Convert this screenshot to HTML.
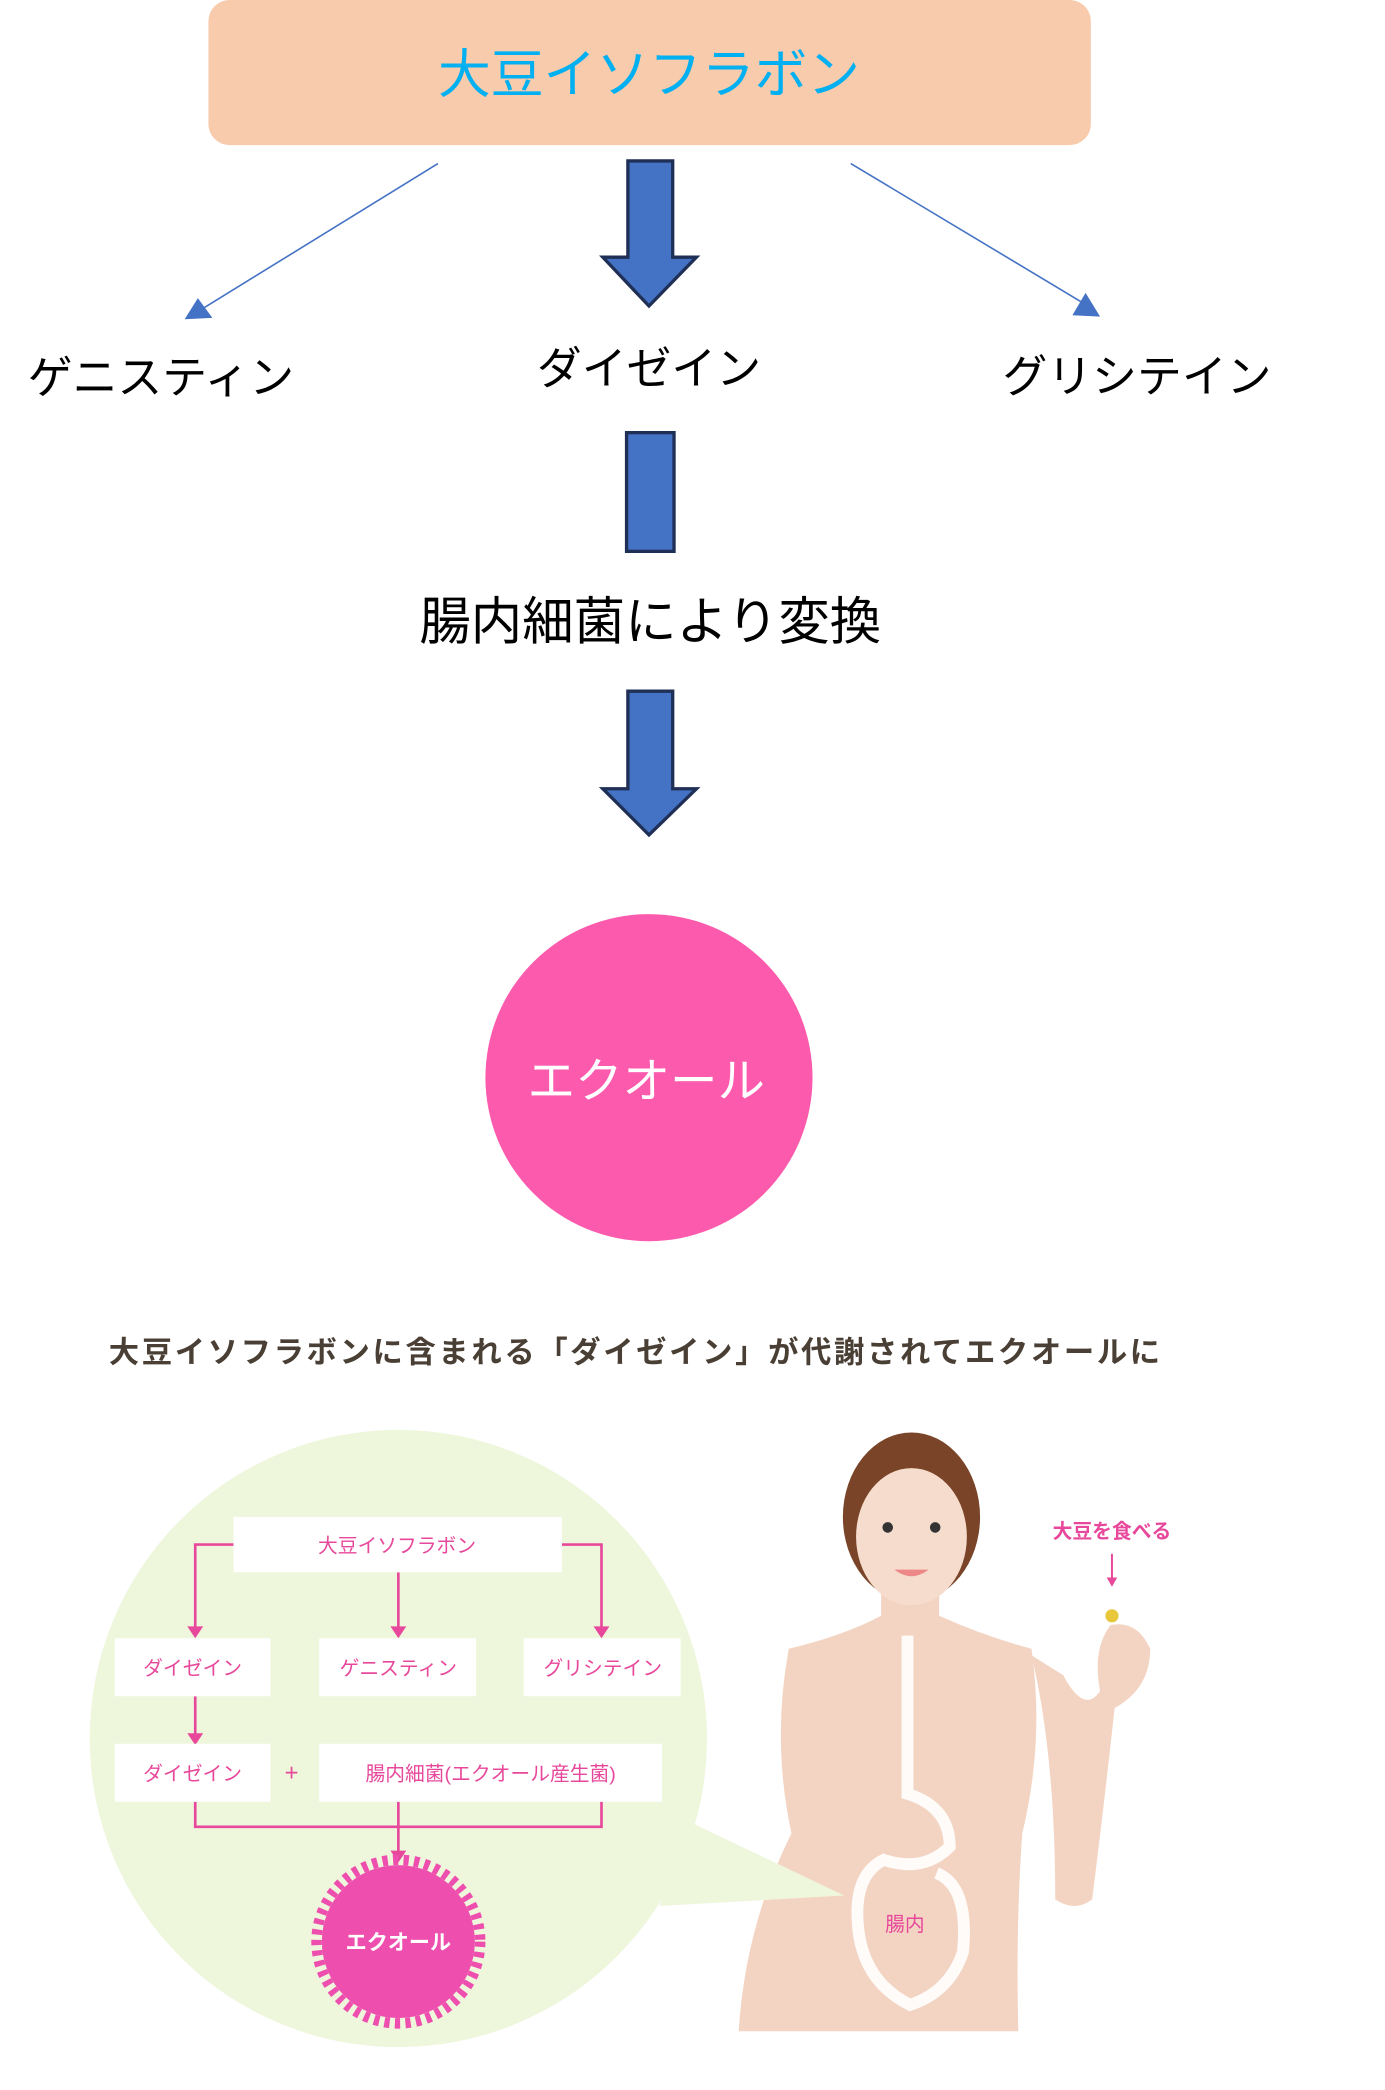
<!DOCTYPE html>
<html><head><meta charset="utf-8"><style>
html,body{margin:0;padding:0;background:#fff;width:1385px;height:2090px;overflow:hidden}
svg{display:block}
text{font-family:"Liberation Sans","Noto Sans CJK JP",sans-serif}
</style></head><body>
<svg width="1385" height="2090" viewBox="0 0 1050 1584.5" xmlns="http://www.w3.org/2000/svg">
<rect x="158" y="0" width="669" height="110" rx="16" fill="#f8cbad"/>
<text x="492" y="70" text-anchor="middle" font-size="40" fill="#00b0f0">大豆イソフラボン</text>
<line x1="332" y1="124" x2="152" y2="235" stroke="#4472c4" stroke-width="1.2"/>
<path d="M140,242 L161,241 L150,226z" fill="#4472c4"/>
<line x1="645" y1="124" x2="825" y2="232" stroke="#4472c4" stroke-width="1.2"/>
<path d="M834,240 L813,239 L823,222z" fill="#4472c4"/>
<path d="M476,122 H510 V195 H528 L492,232 L457,195 H476z" fill="#4472c4" stroke="#1f2f55" stroke-width="2.5"/>
<text x="122" y="298" text-anchor="middle" font-size="34">ゲニスティン</text>
<text x="492" y="291" text-anchor="middle" font-size="34">ダイゼイン</text>
<text x="862" y="297" text-anchor="middle" font-size="34">グリシテイン</text>
<rect x="475" y="328" width="36" height="90" fill="#4472c4" stroke="#1f2f55" stroke-width="2.5"/>
<text x="493" y="485" text-anchor="middle" font-size="39">腸内細菌により変換</text>
<path d="M476,524 H510 V598 H528 L492,633 L457,598 H476z" fill="#4472c4" stroke="#1f2f55" stroke-width="2.5"/>
<circle cx="492" cy="817" r="124" fill="#fc5aad"/>
<text x="490" y="832" text-anchor="middle" font-size="36" fill="#fff">エクオール</text>
<text x="482" y="1033" text-anchor="middle" font-size="23" font-weight="bold" fill="#4a3f35" letter-spacing="2">大豆イソフラボンに含まれる「ダイゼイン」が代謝されてエクオールに</text>
<ellipse cx="302" cy="1318" rx="234" ry="234" fill="#eef6dc"/>
<path d="M598,1250 Q640,1240 668,1225 L712,1225 Q745,1240 782,1250 Q792,1320 775,1390 Q770,1460 772,1540 L560,1540 Q565,1460 600,1390 Q585,1320 598,1250z" fill="#f3d4c2"/>
<path d="M782,1255 Q800,1330 800,1440 Q815,1450 828,1440 Q838,1360 845,1295 Q872,1280 872,1250 Q862,1228 842,1232 Q828,1250 834,1282 Q822,1300 806,1270z" fill="#f3d4c2"/>
<path d="M520,1380 L640,1437 L500,1445z" fill="#eef6dc"/>
<rect x="668" y="1195" width="44" height="40" fill="#f3d4c2"/>
<ellipse cx="691" cy="1150" rx="52" ry="64" fill="#7a4428"/>
<ellipse cx="691" cy="1165" rx="42" ry="52" fill="#f6dccc"/>
<path d="M645,1140 Q690,1080 740,1140 Q735,1100 690,1098 Q650,1100 645,1140z" fill="#7a4428"/>
<circle cx="673" cy="1158" r="4" fill="#333"/><circle cx="709" cy="1158" r="4" fill="#333"/>
<path d="M678,1190 Q691,1200 704,1190z" fill="#e88"/>
<circle cx="843" cy="1225" r="5" fill="#e8c83a"/>
<path d="M688,1240 L688,1360 Q720,1370 720,1400 Q700,1420 670,1410 Q650,1420 650,1450 Q650,1500 690,1520 Q720,1510 730,1480 Q735,1430 710,1420" fill="none" stroke="#fff" stroke-width="9" opacity="0.9"/>
<text x="686" y="1464" text-anchor="middle" font-size="15" fill="#e8489b">腸内</text>
<text x="843" y="1166" text-anchor="middle" font-size="15" font-weight="bold" fill="#e8489b">大豆を食べる</text>
<line x1="843" y1="1178" x2="843" y2="1198" stroke="#e8489b" stroke-width="1.5"/>
<path d="M839,1196 L847,1196 L843,1203z" fill="#e8489b"/>
<g stroke="#e8489b" stroke-width="2" fill="none">
<path d="M177,1171 H148 V1235"/><path d="M426,1171 H456 V1235"/><path d="M302,1192 V1235"/>
<path d="M148,1286 V1316"/>
<path d="M148,1366 V1385 H456 V1366"/><path d="M302,1366 V1405"/>
</g>
<g fill="#e8489b">
<path d="M142,1233 L154,1233 L148,1242z"/><path d="M296,1233 L308,1233 L302,1242z"/><path d="M450,1233 L462,1233 L456,1242z"/>
<path d="M142,1314 L154,1314 L148,1323z"/><path d="M296,1403 L308,1403 L302,1412z"/>
</g>
<g fill="#fff">
<rect x="177" y="1150" width="249" height="42"/>
<rect x="87" y="1242" width="118" height="44"/><rect x="242" y="1242" width="119" height="44"/><rect x="397" y="1242" width="119" height="44"/>
<rect x="87" y="1322" width="118" height="44"/><rect x="242" y="1322" width="260" height="44"/>
</g>
<g font-size="15" fill="#e8489b" text-anchor="middle">
<text x="301" y="1177">大豆イソフラボン</text>
<text x="146" y="1270">ダイゼイン</text><text x="302" y="1270">ゲニスティン</text><text x="457" y="1270">グリシテイン</text>
<text x="146" y="1350">ダイゼイン</text><text x="372" y="1350">腸内細菌(エクオール産生菌)</text>
<text x="221" y="1350" font-size="18">+</text>
</g>
<circle cx="302" cy="1472" r="58" fill="#ee4fae"/>
<circle cx="302" cy="1472" r="62" fill="none" stroke="#ee4fae" stroke-width="8" stroke-dasharray="4 4"/>
<text x="302" y="1478" text-anchor="middle" font-size="16" font-weight="bold" fill="#fff">エクオール</text>
</svg>
</body></html>
